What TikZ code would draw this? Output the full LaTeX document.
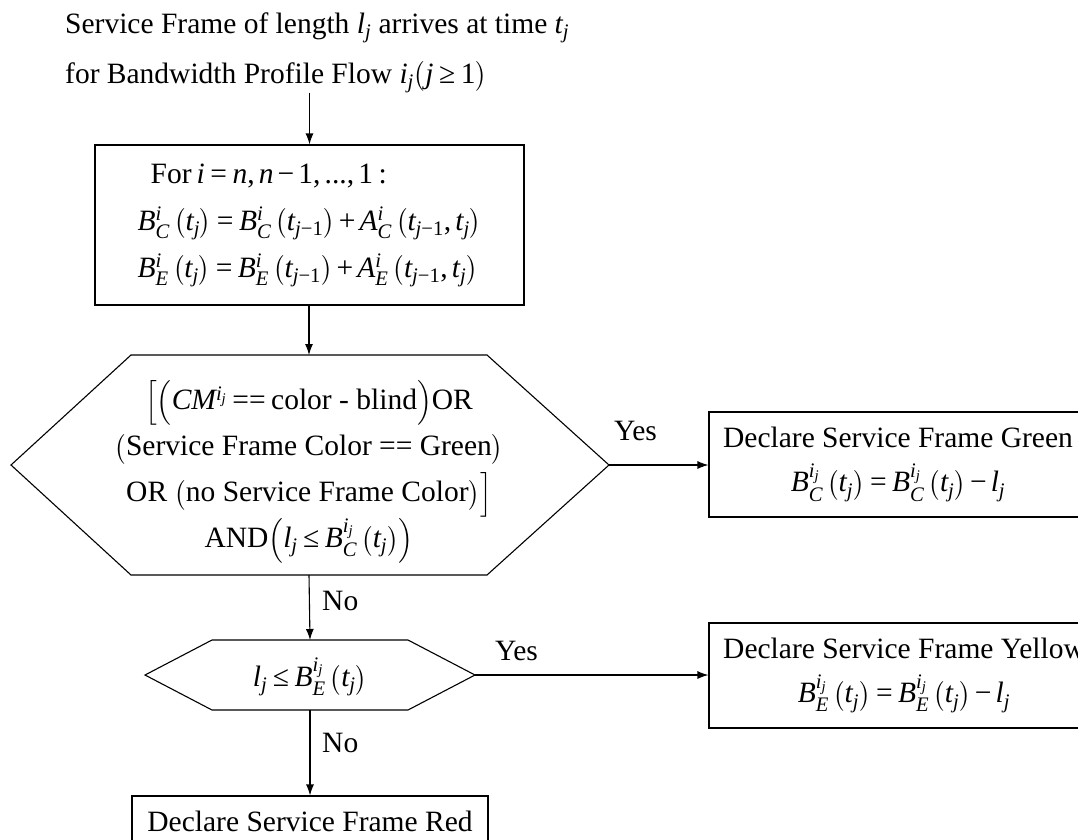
\documentclass[tikz,border=0pt]{standalone}
\usepackage{amsmath}
\usepackage{fontspec}
\setmainfont{Liberation Serif}
\DeclareSymbolFont{timesit}{TU}{\rmdefault}{m}{it}
\newcommand\setlet[1]{\DeclareMathSymbol{#1}{\mathalpha}{timesit}{`#1}}
\setlet{A}\setlet{B}\setlet{C}\setlet{E}\setlet{M}
\setlet{i}\setlet{j}\setlet{l}\setlet{n}\setlet{t}
\newcommand\Teq{\mathrel{\text{=}}}
\newcommand\Teqeq{\mathrel{\text{==}}}
\newcommand\Tpl{\mathbin{\text{+}}}
\newcommand\Tmi{\mathbin{\text{−}}}
\newcommand\Tle{\mathrel{\text{≤}}}
\newcommand\Tge{\mathrel{\text{≥}}}
\newcommand\Tone{\text{1}}
\newcommand\Tc{\mathpunct{\text{,}}}
\usetikzlibrary{arrows.meta}
\tikzset{
  lbl/.style={font=\fontsize{29.5}{34}\selectfont, inner sep=0pt},
  stepbox/.style={draw, line width=1.1pt, font=\fontsize{29.5}{44}\selectfont, align=center, inner sep=0pt},
  hextext/.style={font=\fontsize{29.5}{46}\selectfont, align=center, inner sep=0pt},
  arr/.style={-{Latex[length=11pt,width=8pt]}, line width=1.1pt},
  outline/.style={line width=1.1pt, line join=miter},
  every node/.append style={execute at begin node={\thickmuskip=4mu plus 2mu\medmuskip=3mu}}
}
\begin{document}
\begin{tikzpicture}[x=1pt,y=-1pt]
\useasboundingbox (0,0) rectangle (1078,839);
\clip (0,0) rectangle (1078,839);
\fill[white] (0,0) rectangle (1078,839);

% title
\node[lbl, anchor=base west] (t1) at (65,33) {Service Frame of length $l_j$ arrives at time $t_j$};
\node[lbl, anchor=base west] (t2) at (65,83) {for Bandwidth Profile Flow $i_j\bigl(j\Tge\Tone\bigr)$};

% box 1
\node[stepbox, align=left, minimum width=429pt, minimum height=160pt, font=\fontsize{29.5}{47}\selectfont] (b1) at (309.5,225)
 {\hspace*{13pt}For\,$i\Teq n\Tc n\Tmi\Tone\Tc\text{...}\Tc\Tone\mathrel{\text{:}}$\\
  $B_C^i\left(t_j\right)\Teq B_C^i\left(t_{j\Tmi\Tone}\right)\Tpl A_C^i\left(t_{j\Tmi\Tone}\Tc t_j\right)$\\
  $B_E^i\left(t_j\right)\Teq B_E^i\left(t_{j\Tmi\Tone}\right)\Tpl A_E^i\left(t_{j\Tmi\Tone}\Tc t_j\right)$};

% hexagon 1
\coordinate (h1W) at (11,465);
\coordinate (h1N) at (309,355);
\coordinate (h1E) at (609,465);
\coordinate (h1S) at (309,575);
\draw[outline] (h1W) -- (131,355) -- (487,355) -- (h1E) -- (487,575) -- (131,575) -- cycle;
\node[hextext] (h1) at (309,472)
 {$\Bigl[\Bigl(CM^{i_j}\Teqeq\text{color - blind}\Bigr)$OR\\
  $\bigl($Service Frame Color $\Teqeq$ Green$\bigr)$\\
  OR $\bigl($no Service Frame Color$\bigr)\Bigr]$\\
  AND$\Bigl(l_j\Tle B_C^{i_j}\left(t_j\right)\Bigr)$};

% hexagon 2
\coordinate (h2W) at (145,675);
\coordinate (h2N) at (310,640);
\coordinate (h2E) at (475,675);
\coordinate (h2S) at (310,710);
\draw[outline] (h2W) -- (212,640) -- (408,640) -- (h2E) -- (408,710) -- (212,710) -- cycle;
\node[hextext] (h2) at (310,677) {$l_j\Tle B_E^{i_j}\left(t_j\right)$};

% result boxes
\node[stepbox, minimum width=378pt, minimum height=105pt] (g) at (898,464.5)
 {Declare Service Frame Green\\ $B_C^{i_j}\left(t_j\right)\Teq B_C^{i_j}\left(t_j\right)\Tmi l_j$};
\node[stepbox, minimum width=390pt, minimum height=105pt] (yb) at (904,675.5)
 {Declare Service Frame Yellow\\ $B_E^{i_j}\left(t_j\right)\Teq B_E^{i_j}\left(t_j\right)\Tmi l_j$};
\node[stepbox, minimum width=356pt, minimum height=50pt] (r) at (310,821)
 {Declare Service Frame Red};

% connectors
\draw[arr] (t2.south -| b1.north) -- (b1.north);
\draw[arr] (b1.south -| h1N) -- (h1N);
\draw[arr] (h1E) -- (h1E -| g.west);
\draw[arr] (h1S) -- (h2N);
\draw[arr] (h2E) -- (h2E -| yb.west);
\draw[arr] (h2S) -- (h2S |- r.north);

% labels
\node[lbl, anchor=base] (yes1) at (635.5,440) {Yes};
\node[lbl, anchor=base] (yes2) at (516.5,660) {Yes};
\node[lbl, anchor=base west] (no1) at (322,610) {No};
\node[lbl, anchor=base west] (no2) at (322,752) {No};
\end{tikzpicture}
\end{document}
